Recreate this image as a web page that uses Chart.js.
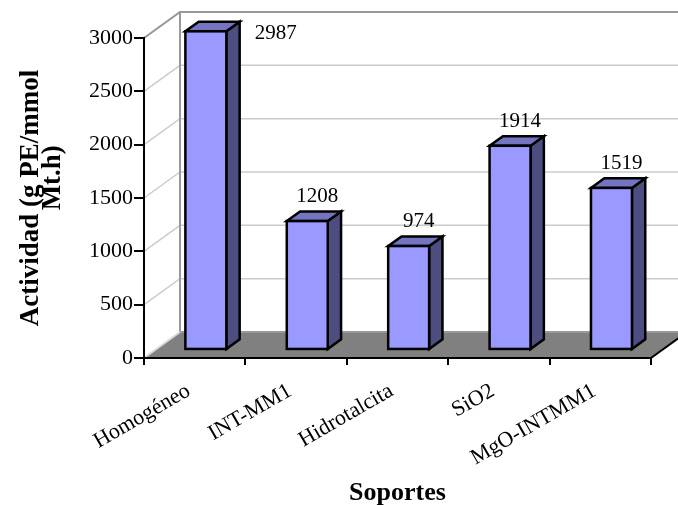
<!DOCTYPE html>
<html>
<head>
<meta charset="utf-8">
<script src="https://cdn.jsdelivr.net/npm/chart.js@4.4.0/dist/chart.umd.min.js"></script>
<style>body{margin:0;background:#fff}</style>
</head>
<body>
<canvas id="myChart" width="678" height="505"></canvas>
<script>
const categories = ['Homogéneo', 'INT-MM1', 'Hidrotalcita', 'SiO2', 'MgO-INTMM1'];
const actividad = [2987, 1208, 974, 1914, 1519];
const yTicks = [0, 500, 1000, 1500, 2000, 2500, 3000];

const serif = "'Liberation Serif', 'Times New Roman', serif";
const depthX = 36, depthY = -26;   // offset of back wall
const barFront = 0.31, barBack = 0.68;

// walls, floor and 3d boxes, excel style
const box3d = {
  id: 'box3d',
  beforeDraw(chart) {
    const ctx = chart.ctx, a = chart.chartArea, y = chart.scales.y;
    ctx.save();
    // floor
    ctx.fillStyle = '#808080';
    ctx.beginPath();
    ctx.moveTo(a.left, a.bottom);
    ctx.lineTo(a.right, a.bottom);
    ctx.lineTo(a.right + depthX, a.bottom + depthY);
    ctx.lineTo(a.left + depthX, a.bottom + depthY);
    ctx.closePath();
    ctx.fill();
    // gridlines on left and back wall
    ctx.strokeStyle = '#cccccc';
    ctx.lineWidth = 1.5;
    y.ticks.forEach(t => {
      if (t.value === 0) return;
      const py = y.getPixelForValue(t.value);
      ctx.beginPath();
      ctx.moveTo(a.left, py);
      ctx.lineTo(a.left + depthX, py + depthY);
      ctx.lineTo(a.right + depthX + 2, py + depthY);
      ctx.stroke();
    });
    // wall borders
    ctx.strokeStyle = '#999999';
    ctx.lineWidth = 2;
    ctx.beginPath();
    ctx.moveTo(a.left, a.top);
    ctx.lineTo(a.left + depthX, a.top + depthY);
    ctx.lineTo(a.right + depthX + 2, a.top + depthY);
    ctx.moveTo(a.left + depthX, a.top + depthY);
    ctx.lineTo(a.left + depthX, a.bottom + depthY);
    ctx.lineTo(a.right + depthX + 2, a.bottom + depthY);
    ctx.stroke();
    ctx.strokeStyle = '#d8d8d8';
    ctx.beginPath();
    ctx.moveTo(a.left, a.bottom);
    ctx.lineTo(a.left + depthX, a.bottom + depthY);
    ctx.stroke();
    ctx.strokeStyle = '#000';
    ctx.beginPath();
    ctx.moveTo(a.right, a.bottom);
    ctx.lineTo(a.right + depthX, a.bottom + depthY);
    ctx.stroke();
    ctx.restore();
  },
  afterDatasetsDraw(chart) {
    const ctx = chart.ctx;
    const meta = chart.getDatasetMeta(0);
    const bdx = (barBack - barFront) * depthX, bdy = (barBack - barFront) * depthY;
    ctx.save();
    ctx.lineWidth = 2.5;
    ctx.strokeStyle = '#000';
    ctx.lineJoin = 'miter';
    meta.data.forEach((bar, i) => {
      const x0 = bar.x - bar.width / 2 + barFront * depthX;
      const x1 = x0 + bar.width;
      const yt = bar.y + barFront * depthY;
      const yb = bar.base + barFront * depthY;
      // side
      ctx.fillStyle = '#4d4d80';
      ctx.beginPath();
      ctx.moveTo(x1, yt); ctx.lineTo(x1 + bdx, yt + bdy);
      ctx.lineTo(x1 + bdx, yb + bdy); ctx.lineTo(x1, yb);
      ctx.closePath(); ctx.fill(); ctx.stroke();
      // top
      ctx.fillStyle = '#7474c0';
      ctx.beginPath();
      ctx.moveTo(x0, yt); ctx.lineTo(x0 + bdx, yt + bdy);
      ctx.lineTo(x1 + bdx, yt + bdy); ctx.lineTo(x1, yt);
      ctx.closePath(); ctx.fill(); ctx.stroke();
      // front
      ctx.fillStyle = '#9999ff';
      ctx.fillRect(x0, yt, bar.width, yb - yt);
      ctx.strokeRect(x0, yt, bar.width, yb - yt);

      // value label
      ctx.fillStyle = '#000';
      ctx.font = '21px ' + serif;
      ctx.textBaseline = 'alphabetic';
      let ly = yt + bdy - 9;
      if (ly - 16 < 0) {
        ctx.textAlign = 'left';
        ctx.fillText(actividad[i], x1 + bdx + 15, yt + 8);
      } else {
        ctx.textAlign = 'center';
        ctx.fillText(actividad[i], x0 + bar.width / 2 + 10, ly);
      }
    });
    ctx.restore();
  }
};

var canvas = document.getElementById('myChart').getContext('2d');
var myChart = new Chart(canvas, {
  type: 'bar',
  data: {
    labels: categories,
    datasets: [{
      label: 'Actividad',
      data: actividad,
      backgroundColor: 'rgba(0,0,0,0)',
      borderWidth: 0,
      barPercentage: 0.404,
      categoryPercentage: 1
    }]
  },
  options: {
    responsive: false,
    animation: false,
    layout: { padding: { left: 0, top: 38, right: 27, bottom: 0 } },
    plugins: { legend: { display: false }, tooltip: { enabled: false } },
    scales: {
      x: {
        grid: { drawOnChartArea: false, color: '#000', lineWidth: 2, tickLength: 7 },
        border: { color: '#000', width: 2 },
        ticks: {
          color: '#000', font: { family: serif, size: 22 },
          minRotation: 30, maxRotation: 30, autoSkip: false,
          padding: 13, labelOffset: -6
        },
        title: {
          display: true, text: 'Soportes', color: '#000', padding: 0,
          font: { family: serif, size: 26, weight: 'bold', lineHeight: 0.9 }
        },
        afterFit(s) { s.height = 147; }
      },
      y: {
        min: 0, max: 3000,
        afterBuildTicks(s) { s.ticks = yTicks.map(v => ({ value: v })); },
        ticks: {
          color: '#000', font: { family: serif, size: 22 }, padding: 1,
          callback: v => String(v)
        },
        grid: { drawOnChartArea: false, color: '#000', lineWidth: 2, tickLength: 10 },
        border: { color: '#000', width: 2 },
        title: {
          display: true, text: ['Actividad (g PE/mmol', '      Mt.h)'], color: '#000',
          font: { family: serif, size: 27, weight: 'bold', lineHeight: 0.82 },
          padding: { top: 20, bottom: 0 }
        },
        afterFit(s) { s.width = 144; }
      }
    }
  },
  plugins: [box3d]
});
</script>
</body>
</html>
